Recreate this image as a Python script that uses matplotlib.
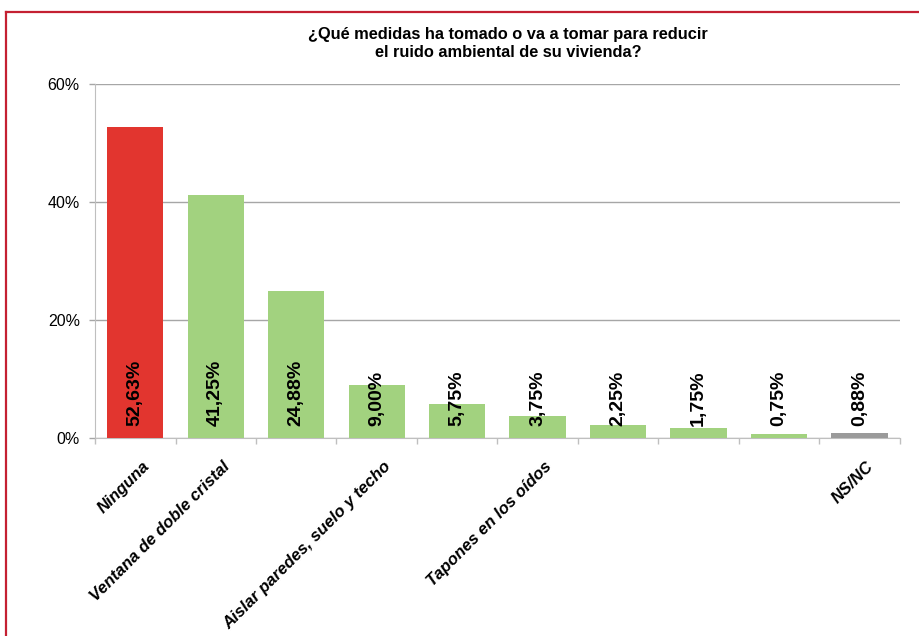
import matplotlib
matplotlib.use("Agg")
import matplotlib.pyplot as plt
import matplotlib.transforms as mtransforms
from matplotlib.lines import Line2D
import numpy as np

plt.rcParams['font.family'] = ['Liberation Sans', 'DejaVu Sans']

# data
categories = ["Ninguna", "Ventana de doble cristal", "", "Aislar paredes, suelo y techo",
              "", "Tapones en los oídos", "", "", "", "NS/NC"]
values = [52.63, 41.25, 24.88, 9.00, 5.75, 3.75, 2.25, 1.75, 0.75, 0.88]
value_labels = ["52,63%", "41,25%", "24,88%", "9,00%", "5,75%", "3,75%",
                "2,25%", "1,75%", "0,75%", "0,88%"]
yticks = [0, 20, 40, 60]
ytick_labels = ["0%", "20%", "40%", "60%"]

RED = "#e2352f"
GREEN = "#a2d27f"
GREY = "#9a9a9a"
colors = [RED] + [GREEN] * 8 + [GREY]

fig = plt.figure(figsize=(9.2, 6.36), dpi=100)
ax = fig.add_axes([0.1033, 0.3113, 0.8747, 0.5567])

x = np.arange(len(values))
ax.bar(x, values, width=0.7, color=colors, zorder=3)

ax.set_xlim(-0.5, len(values) - 0.5)
ax.set_ylim(0, 60)
ax.set_yticks(yticks, ytick_labels, fontsize=11.5)
ax.yaxis.grid(True, color="#a6a6a6", linewidth=1.0, zorder=0)
ax.tick_params(axis="y", length=4, width=1, color="#a6a6a6", pad=7)

# category ticks sit at the borders between bars
ax.set_xticks(np.append(x - 0.5, len(values) - 0.5), minor=True)
ax.tick_params(axis="x", which="minor", length=4, width=1, color="#bfbfbf")
ax.set_xticks(x, categories, rotation=45, ha="right", va="center",
              rotation_mode="anchor", fontsize=12, fontweight="bold", fontstyle="italic")
ax.tick_params(axis="x", which="major", length=0, pad=0)
shift = mtransforms.ScaledTranslation(0.12, -0.26, fig.dpi_scale_trans)
for lbl in ax.get_xticklabels():
    lbl.set_transform(lbl.get_transform() + shift)

for side in ["top", "right"]:
    ax.spines[side].set_visible(False)
ax.spines["left"].set_color("#bfbfbf")
ax.spines["bottom"].set_color("#bfbfbf")

for xi, txt in zip(x, value_labels):
    ax.annotate(txt, (xi, 0), xytext=(0, 9), textcoords="offset points",
                rotation=90, ha="center", va="bottom", fontsize=14,
                fontweight="bold", zorder=4)

fig.text(0.552, 0.932, "¿Qué medidas ha tomado o va a tomar para reducir\nel ruido ambiental de su vivienda?",
         ha="center", va="center", fontsize=11.8, fontweight="bold", linespacing=1.25)

# red frame (left and top only visible in the crop)
border = "#c42032"
fig.add_artist(Line2D([0.0065, 0.0065], [0.0, 0.981], color=border, linewidth=1.6))
fig.add_artist(Line2D([0.0065, 1.0], [0.981, 0.981], color=border, linewidth=1.6))

fig.savefig("out.png", dpi=100)
